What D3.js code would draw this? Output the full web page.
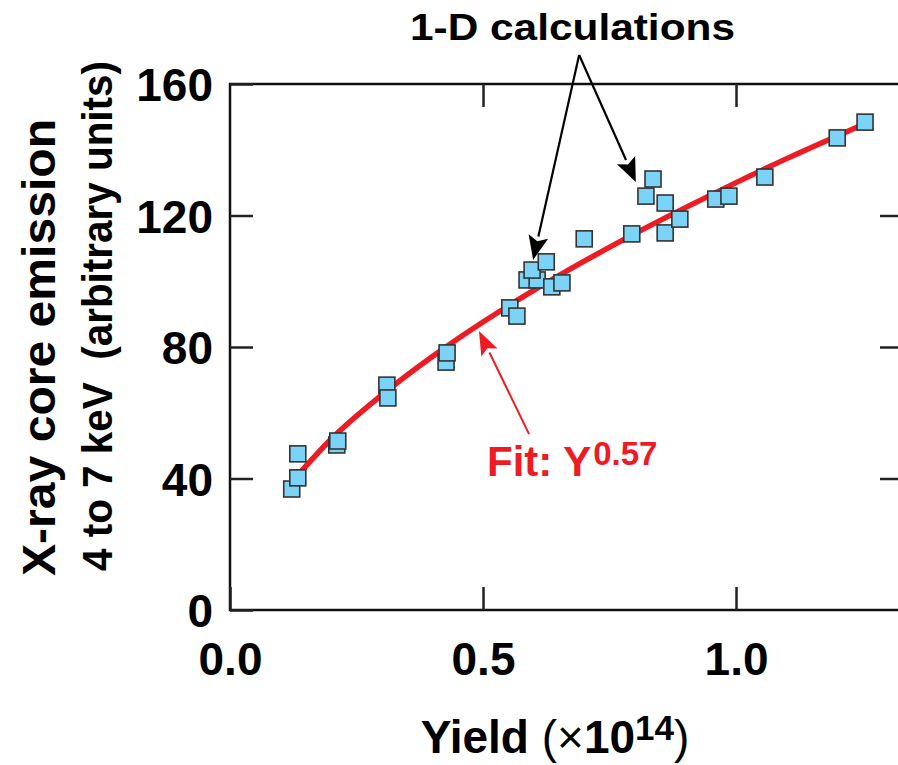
<!DOCTYPE html>
<html>
<head>
<meta charset="utf-8">
<script src="https://cdn.jsdelivr.net/npm/d3@7"></script>
<style>
  body { margin: 0; background: #fff; }
  svg { display: block; font-family: "Liberation Sans", Arial, Helvetica, sans-serif; font-weight: bold; }
</style>
</head>
<body>
<svg id="chart"></svg>
<script>
// Measured points (yield in 1e14, x-ray emission in arbitrary units)
const yieldVals = [0.122, 0.134, 0.134, 0.211, 0.213, 0.310, 0.312, 0.427, 0.429,
    0.553, 0.567, 0.587, 0.607, 0.597, 0.625, 0.636, 0.656, 0.700, 0.794,
    0.822, 0.836, 0.860, 0.860, 0.889, 0.960, 0.986, 1.057, 1.200, 1.255];
const emissionVals = [36.8, 40.2, 47.5, 50.2, 51.4, 68.4, 64.5, 75.4, 78.2,
    91.9, 89.4, 100.4, 100.4, 103.4, 105.9, 98.3, 99.5, 112.9, 114.4,
    125.9, 131.1, 123.8, 114.7, 118.9, 125.0, 125.9, 131.7, 143.6, 148.4];

// Fit curve (Y^0.57)
const fitX = [0.13, 0.2, 0.3, 0.4, 0.5, 0.6, 0.7, 0.8, 0.9, 1.0, 1.1, 1.2, 1.26];
const fitY = [40.3, 52.0, 65.4, 77.1, 87.6, 97.2, 106.1, 114.5, 122.4, 130.0, 137.3, 144.2, 148.3];

const xTicks = [0, 0.5, 1.0];
const yTicks = [0, 40, 80, 120, 160];

const width = 898;
const height = 765;
const margin = { left: 230, top: 84, right: 903, bottom: 610 };

const svg = d3.select("#chart").attr("width", width).attr("height", height);

const x = d3.scaleLinear().domain([0, 1.33]).range([margin.left, margin.right]);
const y = d3.scaleLinear().domain([0, 160]).range([margin.bottom, margin.top]);

const red = "#ed1c24";
const tickLen = 23;

// frame
svg.append("rect")
    .attr("x", margin.left).attr("y", margin.top)
    .attr("width", margin.right - margin.left)
    .attr("height", margin.bottom - margin.top)
    .attr("fill", "none").attr("stroke", "#111").attr("stroke-width", 2.5);

// axes (ticks pointing inward)
const gx = svg.append("g")
    .attr("transform", `translate(0,${margin.bottom})`)
    .call(d3.axisBottom(x).tickValues(xTicks).tickSize(-tickLen).tickSizeOuter(0)
        .tickPadding(32).tickFormat(d3.format(".1f")));
const gy = svg.append("g")
    .attr("transform", `translate(${margin.left},0)`)
    .call(d3.axisLeft(y).tickValues(yTicks).tickSize(-tickLen).tickSizeOuter(0)
        .tickPadding(17));
const gt = svg.append("g")
    .attr("transform", `translate(0,${margin.top})`)
    .call(d3.axisTop(x).tickValues([0.5, 1.0]).tickSize(-tickLen).tickFormat(""));
const gr = svg.append("g")
    .attr("transform", `translate(${margin.right},0)`)
    .call(d3.axisRight(y).tickValues([40, 80, 120]).tickSize(-tickLen).tickFormat(""));

[gx, gy, gt, gr].forEach((g) => {
    g.select(".domain").remove();
    g.selectAll(".tick line").attr("stroke", "#222").attr("stroke-width", 2.5);
    g.selectAll(".tick text")
        .attr("font-family", "Liberation Sans, Arial, sans-serif")
        .attr("font-weight", "bold")
        .attr("font-size", 46)
        .attr("fill", "#000");
});
gy.selectAll(".tick text").attr("dy", "0.36em");

// fit line
const fitData = fitX.map((v, i) => [v, fitY[i]]);
svg.append("path")
    .datum(fitData)
    .attr("fill", "none")
    .attr("stroke", red)
    .attr("stroke-width", 5.5)
    .attr("d", d3.line().x((d) => x(d[0])).y((d) => y(d[1])).curve(d3.curveMonotoneX));

// squares
const pts = yieldVals.map((v, i) => ({ x: v, y: emissionVals[i] }));
const sq = 16;
svg.append("g")
    .selectAll("rect")
    .data(pts)
    .enter()
    .append("rect")
    .attr("x", (d) => x(d.x) - sq / 2)
    .attr("y", (d) => y(d.y) - sq / 2)
    .attr("width", sq)
    .attr("height", sq)
    .attr("fill", "#7bd3f7")
    .attr("stroke", "#333")
    .attr("stroke-width", 1.6);

// arrow helper: shaft + filled head
function arrow(x1, y1, x2, y2, color, w, headLen, headHalf) {
    const ang = Math.atan2(y2 - y1, x2 - x1);
    const bx = x2 - headLen * Math.cos(ang);
    const by = y2 - headLen * Math.sin(ang);
    svg.append("line")
        .attr("x1", x1).attr("y1", y1).attr("x2", bx).attr("y2", by)
        .attr("stroke", color).attr("stroke-width", w);
    const px = -Math.sin(ang), py = Math.cos(ang);
    const nx = x2 - headLen * 0.8 * Math.cos(ang), ny = y2 - headLen * 0.8 * Math.sin(ang);
    svg.append("path")
        .attr("d", `M${x2},${y2} L${bx + px * headHalf},${by + py * headHalf} L${nx},${ny} L${bx - px * headHalf},${by - py * headHalf} Z`)
        .attr("fill", color);
}

// annotation anchors in data space
const calcFrom = [0.690, 168.8];
const calcTips = [[0.599, 106.5], [0.802, 130.2]];
calcTips.forEach((t) => arrow(x(calcFrom[0]), y(calcFrom[1]), x(t[0]), y(t[1]), "#000", 2.2, 24, 10));

const fitFrom = [0.591, 53.5];
const fitTip = [0.492, 84.9];
arrow(x(fitFrom[0]), y(fitFrom[1]), x(fitTip[0]), y(fitTip[1]), red, 2, 24, 9);

// annotation texts
svg.append("text")
    .attr("x", 410).attr("y", 40)
    .attr("font-size", 37)
    .attr("textLength", 325).attr("lengthAdjust", "spacingAndGlyphs")
    .text("1-D calculations");

const fitLabel = svg.append("text")
    .attr("x", 487).attr("y", 476)
    .attr("font-size", 42)
    .attr("fill", red);
fitLabel.append("tspan").text("Fit: Y");
fitLabel.append("tspan").attr("font-size", 33).attr("dy", -11).attr("dx", 2).text("0.57");

// axis titles
const xt = svg.append("text")
    .attr("x", 555).attr("y", 753)
    .attr("text-anchor", "middle")
    .attr("font-size", 46);
xt.append("tspan").text("Yield ");
xt.append("tspan").attr("font-weight", "normal").text("(\u00d7");
xt.append("tspan").text("10");
xt.append("tspan").attr("font-size", 35).attr("dy", -13).text("14");
xt.append("tspan").attr("font-weight", "normal").attr("dy", 13).text(")");

svg.append("text")
    .attr("transform", "translate(55,576) rotate(-90)")
    .attr("font-size", 46)
    .attr("textLength", 457).attr("lengthAdjust", "spacingAndGlyphs")
    .text("X-ray core emission");

svg.append("text")
    .attr("transform", "translate(112,571) rotate(-90)")
    .attr("font-size", 43)
    .style("white-space", "pre")
    .attr("textLength", 510).attr("lengthAdjust", "spacingAndGlyphs")
    .text("4 to 7 keV  (arbitrary units)");
</script>
</body>
</html>
